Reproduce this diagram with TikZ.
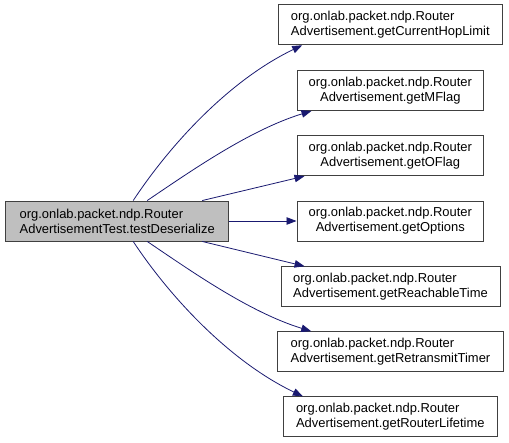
\documentclass[tikz,border=0pt]{standalone}
\usepackage{fontspec}
\setmainfont{Liberation Sans}
\usetikzlibrary{arrows.meta}
\definecolor{edgeblue}{HTML}{191970}
\definecolor{nodeframe}{HTML}{404040}
\definecolor{nodefill}{HTML}{BFBFBF}

\begin{document}
\begin{tikzpicture}[x=1bp, y=-1bp, every node/.style={rectangle, draw=nodeframe, line width=0.9bp, inner sep=0pt, minimum height=40bp, font=\fontsize{13}{15}\selectfont}, call/.style={draw=edgeblue, line width=0.8bp, -{Triangle[length=10bp, width=7.5bp]}}]
  \useasboundingbox (0,0) rectangle (509,443);
  \node[fill=nodefill, minimum width=223bp, align=left] (test) at (117.2, 221) {org.onlab.packet.ndp.Router\\AdvertisementTest.testDeserialize};
  \node[minimum width=223.3bp, align=left] (hop) at (390.3, 24.8) {org.onlab.packet.ndp.Router\\Advertisement.getCurrentHopLimit};
  \node[minimum width=186.7bp, align=center] (mflag) at (390.3, 90.5) {org.onlab.packet.ndp.Router\\Advertisement.getMFlag};
  \node[minimum width=186.7bp, align=center] (oflag) at (390.3, 155.7) {org.onlab.packet.ndp.Router\\Advertisement.getOFlag};
  \node[minimum width=186.7bp, align=center] (opts) at (390.3, 221) {org.onlab.packet.ndp.Router\\Advertisement.getOptions};
  \node[minimum width=219bp, align=left] (reach) at (390.5, 286.7) {org.onlab.packet.ndp.Router\\Advertisement.getReachableTime};
  \node[minimum width=225.7bp, align=left] (retx) at (390.5, 351.7) {org.onlab.packet.ndp.Router\\Advertisement.getRetransmitTimer};
  \node[minimum width=214bp, align=left] (life) at (390.3, 416.8) {org.onlab.packet.ndp.Router\\Advertisement.getRouterLifetime};
  \draw[call] ([xshift=16bp]test.north) .. controls +(37,-56) and +(-73,35) .. ([xshift=24bp]hop.south west);
  \draw[call] ([xshift=30bp]test.north) .. controls +(43,-29) and +(-62,19) .. ([xshift=15bp]mflag.south west);
  \draw[call] ([xshift=85bp]test.north) -- ([xshift=8bp]oflag.south west);
  \draw[call] (test.east) -- (opts.west);
  \draw[call] ([xshift=85bp]test.south) -- ([xshift=24bp]reach.north west);
  \draw[call] ([xshift=30bp]test.south) .. controls +(43,29) and +(-62,-19) .. ([xshift=34bp]retx.north west);
  \draw[call] ([xshift=16bp]test.south) .. controls +(37,56) and +(-73,-35) .. ([xshift=20bp]life.north west);
\end{tikzpicture}
\end{document}
